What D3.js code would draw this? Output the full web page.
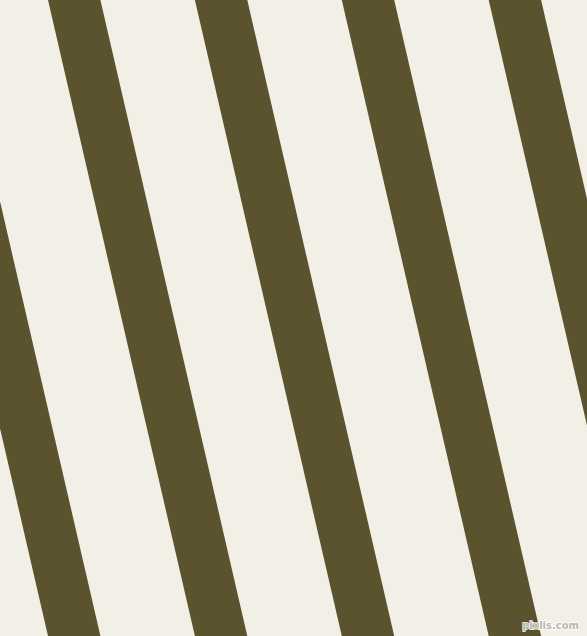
<!DOCTYPE html>
<html>
<head>
<meta charset="utf-8">
<script src="https://cdn.jsdelivr.net/npm/d3@7"></script>
<style>
body{margin:0;padding:0;overflow:hidden;background:#f2efe7}
</style>
</head>
<body>
<div id="chart"></div>
<script>
// stripe indices, left to right (one extra on each side so the edges are covered)
var stripes = [-1, 0, 1, 2, 3, 4]
var stripeColors = ["#5b522e"]
var watermark = ["pixlis.com"]

var W = 587, H = 636

var svg = d3.select("#chart")
.append("svg")
.attr("width",W)
.attr("height",H)

svg.append("rect")
.attr("width",W)
.attr("height",H)
.attr("fill","#f2efe7")

// index -> left edge of stripe at the top
var xScale = d3.scaleLinear()
.domain([0,1])
.range([48,194.9])

var yScale = d3.scaleLinear()
.domain([0,1])
.range([0,H])

var period = xScale(1)-xScale(0)
var bandW = 52.4
var lean = period // horizontal drift from top to bottom

var band = d3.line()
.x(function(d){return d[0]})
.y(function(d){return yScale(d[1])})

svg.selectAll("path.stripe")
.data(stripes)
.enter()
.append("path")
.attr("class","stripe")
.attr("d",function(i){
    var x0 = xScale(i)
    return band([[x0,0],[x0+bandW,0],[x0+bandW+lean,1],[x0+lean,1]])+"Z"
})
.attr("fill",stripeColors[0])

svg.append("text")
.text(watermark[0])
.attr("x",579)
.attr("y",629)
.attr("text-anchor","end")
.attr("font-family","DejaVu Sans")
.attr("font-size",10)
.attr("font-weight","bold")
.attr("fill","#b8b6ae")
.attr("stroke","#ffffff")
.attr("stroke-width",1.5)
.attr("paint-order","stroke")
</script>
</body>
</html>
